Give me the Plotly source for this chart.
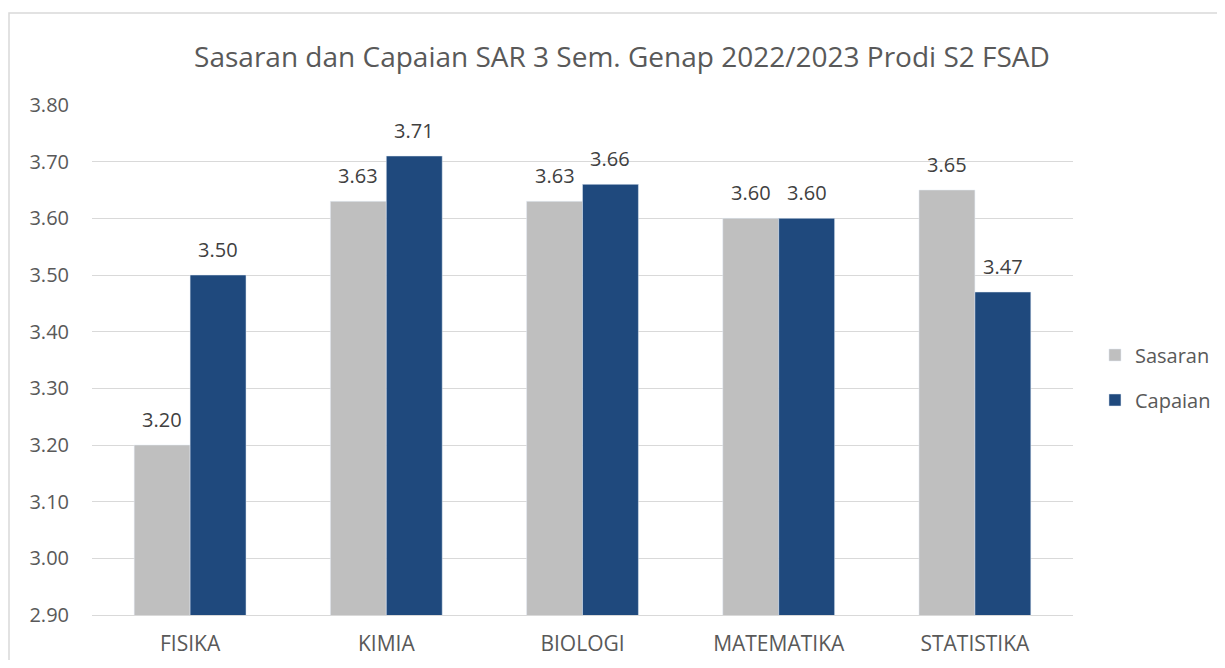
import plotly.graph_objects as go

categories = ["FISIKA", "KIMIA", "BIOLOGI", "MATEMATIKA", "STATISTIKA"]
sasaran = [3.20, 3.63, 3.63, 3.60, 3.65]
capaian = [3.50, 3.71, 3.66, 3.60, 3.47]
y_ticks = [2.90, 3.00, 3.10, 3.20, 3.30, 3.40, 3.50, 3.60, 3.70, 3.80]

FONT = "'Open Sans', 'Noto Sans', sans-serif"
TXT = "#595959"
LBL = "#404040"

# figure is placed by the page with an 8px body margin
W, H = 1209, 652
L, T = 84, 97
PW, PH = 981, 510
R, B = W - L - PW, H - T - PH
BARGAP = 0.43

fig = go.Figure()
fig.add_trace(go.Bar(x=categories, y=sasaran, name="Sasaran",
                     marker_color="#BFBFBF", legendgroup="a"))
fig.add_trace(go.Bar(x=categories, y=capaian, name="Capaian",
                     marker_color="#1F497D", legendgroup="b"))

# data labels tied to the data values
bar_w_px = PW / len(categories) * (1 - BARGAP) / 2
for series, sign in ((sasaran, -1), (capaian, 1)):
    for c, v in zip(categories, series):
        fig.add_annotation(x=c, y=v, xref="x", yref="y", text=f"{v:.2f}",
                           showarrow=False, xshift=sign * bar_w_px / 2,
                           yshift=26, yanchor="middle",
                           font=dict(size=20, color=LBL, family=FONT))

fig.update_layout(
    width=W, height=H,
    margin=dict(l=L, r=R, t=T, b=B, autoexpand=False),
    paper_bgcolor="white", plot_bgcolor="white",
    font=dict(family=FONT, color=TXT, size=20),
    barmode="group", bargap=BARGAP, bargroupgap=0,
    title=dict(text="Sasaran dan Capaian SAR 3 Sem. Genap 2022/2023 Prodi S2 FSAD",
               x=614 / W, xanchor="center", y=1 - 49 / H, yanchor="middle",
               font=dict(size=28, color=TXT, family=FONT)),
    legend=dict(x=1.0224, xanchor="left", y=0.4657, yanchor="middle",
                font=dict(size=20, color=TXT, family=FONT), tracegroupgap=16,
                traceorder="grouped", itemwidth=30),
    showlegend=True,
)
fig.update_yaxes(range=[2.9, 3.8], tickvals=y_ticks, tickformat=".2f",
                 showgrid=True, gridcolor="#D9D9D9", gridwidth=1, zeroline=False,
                 showline=False, ticks="", ticklabelstandoff=22, automargin=False,
                 tickfont=dict(size=20, color=TXT, family=FONT))
fig.update_xaxes(showline=True, linecolor="#D9D9D9", linewidth=1, ticks="",
                 automargin=False,
                 tickfont=dict(size=21, color=TXT, family=FONT), ticklabelstandoff=10)

fig.add_shape(type="rect", xref="paper", yref="paper",
              x0=(1 - L) / PW, x1=(W + 30 - L) / PW,
              y0=1 - (H + 30 - T) / PH, y1=1 + (T - 5) / PH,
              line=dict(color="#D9D9D9", width=1.5), layer="below")

fig.write_html("out.html")
